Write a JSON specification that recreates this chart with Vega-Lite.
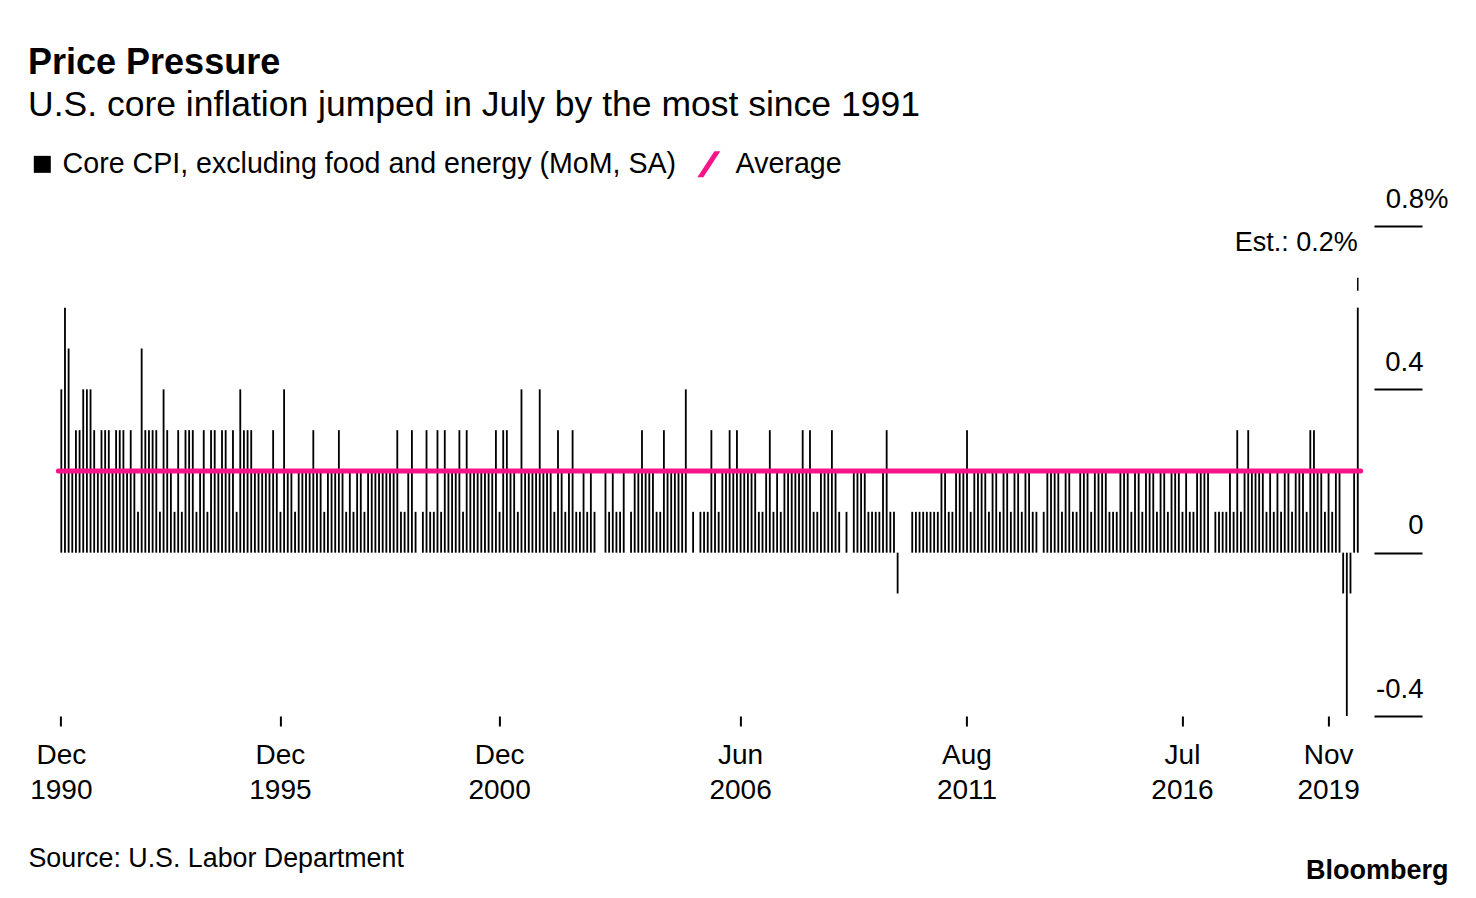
{
  "$schema": "https://vega.github.io/schema/vega-lite/v6.json",
  "width": 1302.3,
  "height": 490,
  "autosize": {"type": "none"},
  "padding": {"left": 58.4, "top": 226, "right": 115.3, "bottom": 182},
  "config": {
    "font": "Liberation Sans",
    "view": {"stroke": null},
    "background": "#ffffff"
  },
  "title": {
    "text": "Price Pressure",
    "subtitle": "U.S. core inflation jumped in July by the most since 1991",
    "anchor": "start",
    "frame": "group",
    "dx": -30.4,
    "fontSize": 36,
    "fontWeight": "bold",
    "color": "#000000",
    "subtitleFontSize": 35.5,
    "subtitleColor": "#000000",
    "subtitlePadding": 6,
    "offset": 26
  },
  "datasets": {
    "avg": [{"avg": 0.2}]
  },
  "data": {"values": [
    {"m":"Dec 1990","v":0.4},
    {"m":"Jan 1991","v":0.6},{"m":"Feb 1991","v":0.5},{"m":"Mar 1991","v":0.2},{"m":"Apr 1991","v":0.3},{"m":"May 1991","v":0.3},{"m":"Jun 1991","v":0.4},{"m":"Jul 1991","v":0.4},{"m":"Aug 1991","v":0.4},{"m":"Sep 1991","v":0.3},{"m":"Oct 1991","v":0.2},{"m":"Nov 1991","v":0.3},{"m":"Dec 1991","v":0.3},
    {"m":"Jan 1992","v":0.3},{"m":"Feb 1992","v":0.2},{"m":"Mar 1992","v":0.3},{"m":"Apr 1992","v":0.3},{"m":"May 1992","v":0.3},{"m":"Jun 1992","v":0.2},{"m":"Jul 1992","v":0.3},{"m":"Aug 1992","v":0.2},{"m":"Sep 1992","v":0.1},{"m":"Oct 1992","v":0.5},{"m":"Nov 1992","v":0.3},{"m":"Dec 1992","v":0.3},
    {"m":"Jan 1993","v":0.3},{"m":"Feb 1993","v":0.3},{"m":"Mar 1993","v":0.1},{"m":"Apr 1993","v":0.4},{"m":"May 1993","v":0.3},{"m":"Jun 1993","v":0.2},{"m":"Jul 1993","v":0.1},{"m":"Aug 1993","v":0.3},{"m":"Sep 1993","v":0.1},{"m":"Oct 1993","v":0.3},{"m":"Nov 1993","v":0.3},{"m":"Dec 1993","v":0.3},
    {"m":"Jan 1994","v":0.1},{"m":"Feb 1994","v":0.2},{"m":"Mar 1994","v":0.3},{"m":"Apr 1994","v":0.1},{"m":"May 1994","v":0.3},{"m":"Jun 1994","v":0.3},{"m":"Jul 1994","v":0.2},{"m":"Aug 1994","v":0.3},{"m":"Sep 1994","v":0.3},{"m":"Oct 1994","v":0.2},{"m":"Nov 1994","v":0.3},{"m":"Dec 1994","v":0.1},
    {"m":"Jan 1995","v":0.4},{"m":"Feb 1995","v":0.3},{"m":"Mar 1995","v":0.3},{"m":"Apr 1995","v":0.3},{"m":"May 1995","v":0.2},{"m":"Jun 1995","v":0.2},{"m":"Jul 1995","v":0.2},{"m":"Aug 1995","v":0.2},{"m":"Sep 1995","v":0.2},{"m":"Oct 1995","v":0.3},{"m":"Nov 1995","v":0.2},{"m":"Dec 1995","v":0.1},
    {"m":"Jan 1996","v":0.4},{"m":"Feb 1996","v":0.2},{"m":"Mar 1996","v":0.2},{"m":"Apr 1996","v":0.1},{"m":"May 1996","v":0.2},{"m":"Jun 1996","v":0.2},{"m":"Jul 1996","v":0.2},{"m":"Aug 1996","v":0.2},{"m":"Sep 1996","v":0.3},{"m":"Oct 1996","v":0.2},{"m":"Nov 1996","v":0.2},{"m":"Dec 1996","v":0.1},
    {"m":"Jan 1997","v":0.2},{"m":"Feb 1997","v":0.2},{"m":"Mar 1997","v":0.2},{"m":"Apr 1997","v":0.3},{"m":"May 1997","v":0.2},{"m":"Jun 1997","v":0.1},{"m":"Jul 1997","v":0.2},{"m":"Aug 1997","v":0.1},{"m":"Sep 1997","v":0.2},{"m":"Oct 1997","v":0.2},{"m":"Nov 1997","v":0.1},{"m":"Dec 1997","v":0.2},
    {"m":"Jan 1998","v":0.2},{"m":"Feb 1998","v":0.2},{"m":"Mar 1998","v":0.2},{"m":"Apr 1998","v":0.2},{"m":"May 1998","v":0.2},{"m":"Jun 1998","v":0.2},{"m":"Jul 1998","v":0.2},{"m":"Aug 1998","v":0.3},{"m":"Sep 1998","v":0.1},{"m":"Oct 1998","v":0.1},{"m":"Nov 1998","v":0.2},{"m":"Dec 1998","v":0.3},
    {"m":"Jan 1999","v":0.1},{"m":"Feb 1999","v":0.0},{"m":"Mar 1999","v":0.1},{"m":"Apr 1999","v":0.3},{"m":"May 1999","v":0.1},{"m":"Jun 1999","v":0.1},{"m":"Jul 1999","v":0.3},{"m":"Aug 1999","v":0.1},{"m":"Sep 1999","v":0.3},{"m":"Oct 1999","v":0.2},{"m":"Nov 1999","v":0.2},{"m":"Dec 1999","v":0.2},
    {"m":"Jan 2000","v":0.3},{"m":"Feb 2000","v":0.1},{"m":"Mar 2000","v":0.3},{"m":"Apr 2000","v":0.2},{"m":"May 2000","v":0.2},{"m":"Jun 2000","v":0.2},{"m":"Jul 2000","v":0.2},{"m":"Aug 2000","v":0.2},{"m":"Sep 2000","v":0.2},{"m":"Oct 2000","v":0.2},{"m":"Nov 2000","v":0.3},{"m":"Dec 2000","v":0.1},
    {"m":"Jan 2001","v":0.3},{"m":"Feb 2001","v":0.3},{"m":"Mar 2001","v":0.2},{"m":"Apr 2001","v":0.2},{"m":"May 2001","v":0.1},{"m":"Jun 2001","v":0.4},{"m":"Jul 2001","v":0.2},{"m":"Aug 2001","v":0.2},{"m":"Sep 2001","v":0.2},{"m":"Oct 2001","v":0.2},{"m":"Nov 2001","v":0.4},{"m":"Dec 2001","v":0.2},
    {"m":"Jan 2002","v":0.2},{"m":"Feb 2002","v":0.2},{"m":"Mar 2002","v":0.1},{"m":"Apr 2002","v":0.3},{"m":"May 2002","v":0.2},{"m":"Jun 2002","v":0.1},{"m":"Jul 2002","v":0.2},{"m":"Aug 2002","v":0.3},{"m":"Sep 2002","v":0.1},{"m":"Oct 2002","v":0.1},{"m":"Nov 2002","v":0.2},{"m":"Dec 2002","v":0.1},
    {"m":"Jan 2003","v":0.2},{"m":"Feb 2003","v":0.1},{"m":"Mar 2003","v":0.0},{"m":"Apr 2003","v":0.0},{"m":"May 2003","v":0.2},{"m":"Jun 2003","v":0.1},{"m":"Jul 2003","v":0.2},{"m":"Aug 2003","v":0.1},{"m":"Sep 2003","v":0.1},{"m":"Oct 2003","v":0.2},{"m":"Nov 2003","v":0.0},{"m":"Dec 2003","v":0.1},
    {"m":"Jan 2004","v":0.2},{"m":"Feb 2004","v":0.2},{"m":"Mar 2004","v":0.3},{"m":"Apr 2004","v":0.2},{"m":"May 2004","v":0.2},{"m":"Jun 2004","v":0.2},{"m":"Jul 2004","v":0.1},{"m":"Aug 2004","v":0.1},{"m":"Sep 2004","v":0.3},{"m":"Oct 2004","v":0.2},{"m":"Nov 2004","v":0.2},{"m":"Dec 2004","v":0.2},
    {"m":"Jan 2005","v":0.2},{"m":"Feb 2005","v":0.2},{"m":"Mar 2005","v":0.4},{"m":"Apr 2005","v":0.0},{"m":"May 2005","v":0.1},{"m":"Jun 2005","v":0.0},{"m":"Jul 2005","v":0.1},{"m":"Aug 2005","v":0.1},{"m":"Sep 2005","v":0.1},{"m":"Oct 2005","v":0.3},{"m":"Nov 2005","v":0.2},{"m":"Dec 2005","v":0.1},
    {"m":"Jan 2006","v":0.2},{"m":"Feb 2006","v":0.2},{"m":"Mar 2006","v":0.3},{"m":"Apr 2006","v":0.2},{"m":"May 2006","v":0.3},{"m":"Jun 2006","v":0.2},{"m":"Jul 2006","v":0.2},{"m":"Aug 2006","v":0.2},{"m":"Sep 2006","v":0.2},{"m":"Oct 2006","v":0.2},{"m":"Nov 2006","v":0.1},{"m":"Dec 2006","v":0.1},
    {"m":"Jan 2007","v":0.2},{"m":"Feb 2007","v":0.3},{"m":"Mar 2007","v":0.1},{"m":"Apr 2007","v":0.2},{"m":"May 2007","v":0.1},{"m":"Jun 2007","v":0.2},{"m":"Jul 2007","v":0.2},{"m":"Aug 2007","v":0.2},{"m":"Sep 2007","v":0.2},{"m":"Oct 2007","v":0.2},{"m":"Nov 2007","v":0.3},{"m":"Dec 2007","v":0.2},
    {"m":"Jan 2008","v":0.3},{"m":"Feb 2008","v":0.1},{"m":"Mar 2008","v":0.1},{"m":"Apr 2008","v":0.2},{"m":"May 2008","v":0.2},{"m":"Jun 2008","v":0.2},{"m":"Jul 2008","v":0.3},{"m":"Aug 2008","v":0.2},{"m":"Sep 2008","v":0.1},{"m":"Oct 2008","v":0.0},{"m":"Nov 2008","v":0.1},{"m":"Dec 2008","v":0.0},
    {"m":"Jan 2009","v":0.2},{"m":"Feb 2009","v":0.2},{"m":"Mar 2009","v":0.2},{"m":"Apr 2009","v":0.2},{"m":"May 2009","v":0.1},{"m":"Jun 2009","v":0.1},{"m":"Jul 2009","v":0.1},{"m":"Aug 2009","v":0.1},{"m":"Sep 2009","v":0.2},{"m":"Oct 2009","v":0.3},{"m":"Nov 2009","v":0.1},{"m":"Dec 2009","v":0.1},
    {"m":"Jan 2010","v":-0.1},{"m":"Feb 2010","v":0.0},{"m":"Mar 2010","v":0.0},{"m":"Apr 2010","v":0.0},{"m":"May 2010","v":0.1},{"m":"Jun 2010","v":0.1},{"m":"Jul 2010","v":0.1},{"m":"Aug 2010","v":0.1},{"m":"Sep 2010","v":0.1},{"m":"Oct 2010","v":0.1},{"m":"Nov 2010","v":0.1},{"m":"Dec 2010","v":0.1},
    {"m":"Jan 2011","v":0.2},{"m":"Feb 2011","v":0.2},{"m":"Mar 2011","v":0.1},{"m":"Apr 2011","v":0.1},{"m":"May 2011","v":0.2},{"m":"Jun 2011","v":0.2},{"m":"Jul 2011","v":0.2},{"m":"Aug 2011","v":0.3},{"m":"Sep 2011","v":0.1},{"m":"Oct 2011","v":0.2},{"m":"Nov 2011","v":0.2},{"m":"Dec 2011","v":0.2},
    {"m":"Jan 2012","v":0.2},{"m":"Feb 2012","v":0.1},{"m":"Mar 2012","v":0.2},{"m":"Apr 2012","v":0.2},{"m":"May 2012","v":0.1},{"m":"Jun 2012","v":0.2},{"m":"Jul 2012","v":0.2},{"m":"Aug 2012","v":0.1},{"m":"Sep 2012","v":0.2},{"m":"Oct 2012","v":0.2},{"m":"Nov 2012","v":0.1},{"m":"Dec 2012","v":0.2},
    {"m":"Jan 2013","v":0.2},{"m":"Feb 2013","v":0.1},{"m":"Mar 2013","v":0.1},{"m":"Apr 2013","v":0.0},{"m":"May 2013","v":0.1},{"m":"Jun 2013","v":0.2},{"m":"Jul 2013","v":0.2},{"m":"Aug 2013","v":0.2},{"m":"Sep 2013","v":0.2},{"m":"Oct 2013","v":0.1},{"m":"Nov 2013","v":0.2},{"m":"Dec 2013","v":0.2},
    {"m":"Jan 2014","v":0.1},{"m":"Feb 2014","v":0.1},{"m":"Mar 2014","v":0.2},{"m":"Apr 2014","v":0.2},{"m":"May 2014","v":0.2},{"m":"Jun 2014","v":0.1},{"m":"Jul 2014","v":0.2},{"m":"Aug 2014","v":0.2},{"m":"Sep 2014","v":0.2},{"m":"Oct 2014","v":0.2},{"m":"Nov 2014","v":0.1},{"m":"Dec 2014","v":0.1},
    {"m":"Jan 2015","v":0.1},{"m":"Feb 2015","v":0.2},{"m":"Mar 2015","v":0.2},{"m":"Apr 2015","v":0.2},{"m":"May 2015","v":0.1},{"m":"Jun 2015","v":0.2},{"m":"Jul 2015","v":0.2},{"m":"Aug 2015","v":0.1},{"m":"Sep 2015","v":0.2},{"m":"Oct 2015","v":0.2},{"m":"Nov 2015","v":0.2},{"m":"Dec 2015","v":0.1},
    {"m":"Jan 2016","v":0.2},{"m":"Feb 2016","v":0.2},{"m":"Mar 2016","v":0.1},{"m":"Apr 2016","v":0.2},{"m":"May 2016","v":0.2},{"m":"Jun 2016","v":0.2},{"m":"Jul 2016","v":0.1},{"m":"Aug 2016","v":0.2},{"m":"Sep 2016","v":0.1},{"m":"Oct 2016","v":0.1},{"m":"Nov 2016","v":0.2},{"m":"Dec 2016","v":0.2},
    {"m":"Jan 2017","v":0.2},{"m":"Feb 2017","v":0.2},{"m":"Mar 2017","v":0.0},{"m":"Apr 2017","v":0.1},{"m":"May 2017","v":0.1},{"m":"Jun 2017","v":0.1},{"m":"Jul 2017","v":0.1},{"m":"Aug 2017","v":0.2},{"m":"Sep 2017","v":0.1},{"m":"Oct 2017","v":0.3},{"m":"Nov 2017","v":0.1},{"m":"Dec 2017","v":0.2},
    {"m":"Jan 2018","v":0.3},{"m":"Feb 2018","v":0.2},{"m":"Mar 2018","v":0.2},{"m":"Apr 2018","v":0.2},{"m":"May 2018","v":0.2},{"m":"Jun 2018","v":0.1},{"m":"Jul 2018","v":0.2},{"m":"Aug 2018","v":0.1},{"m":"Sep 2018","v":0.2},{"m":"Oct 2018","v":0.1},{"m":"Nov 2018","v":0.2},{"m":"Dec 2018","v":0.2},
    {"m":"Jan 2019","v":0.1},{"m":"Feb 2019","v":0.2},{"m":"Mar 2019","v":0.2},{"m":"Apr 2019","v":0.2},{"m":"May 2019","v":0.1},{"m":"Jun 2019","v":0.3},{"m":"Jul 2019","v":0.3},{"m":"Aug 2019","v":0.2},{"m":"Sep 2019","v":0.2},{"m":"Oct 2019","v":0.1},{"m":"Nov 2019","v":0.2},{"m":"Dec 2019","v":0.1},
    {"m":"Jan 2020","v":0.2},{"m":"Feb 2020","v":0.2},{"m":"Mar 2020","v":-0.1},{"m":"Apr 2020","v":-0.4},{"m":"May 2020","v":-0.1},{"m":"Jun 2020","v":0.2},{"m":"Jul 2020","v":0.6,"est":"Est.: 0.2%"}
  ]},
  "layer": [
    {
      "mark": {"type": "bar", "color": "#000000"},
      "encoding": {
        "x": {
          "field": "m", "type": "ordinal", "sort": null,
          "scale": {"paddingInner": 0.5, "paddingOuter": 0.55, "round": false},
          "axis": {
            "values": ["Dec 1990", "Dec 1995", "Dec 2000", "Jun 2006", "Aug 2011", "Jul 2016", "Nov 2019"],
            "labelExpr": "split(datum.value, ' ')",
            "labelAngle": 0, "labelAlign": "center", "labelBaseline": "top",
            "labelFontSize": 28, "labelLineHeight": 35, "labelPadding": 15, "labelColor": "#000000",
            "labelOverlap": false, "labelFlush": false, "labelBound": false,
            "domain": false, "grid": false, "tickSize": 10, "tickWidth": 2, "tickColor": "#000000",
            "title": "Source: U.S. Labor Department",
            "titleX": -30.4, "titleY": 150, "titleAlign": "left", "titleAnchor": "start", "titleBaseline": "alphabetic",
            "titleFontSize": 26.8, "titleFontWeight": "normal", "titleColor": "#000000"
          }
        },
        "y": {
          "field": "v", "type": "quantitative",
          "scale": {"domain": [-0.4, 0.8], "nice": false, "zero": true},
          "axis": {
            "orient": "right", "values": [-0.4, 0, 0.4, 0.8],
            "labelExpr": "datum.value == 0.8 ? '0.8%' : datum.value == 0 ? '0' : datum.value < 0 ? '-0.4' : '0.4'",
            "domain": false, "grid": false, "tickSize": 48, "tickWidth": 2, "tickColor": "#000000", "offset": 13.3,
            "labelAlign": "right", "labelBaseline": "alphabetic", "labelOffset": -19,
            "labelPadding": {"condition": {"test": "datum.value == 0.8", "value": 26}, "value": 1},
            "labelFontSize": 27.5, "labelColor": "#000000",
            "labelOverlap": false, "labelFlush": false, "labelBound": false,
            "title": "Bloomberg", "titleAngle": 0, "titleX": 74, "titleY": 652, "titleAlign": "right", "titleBaseline": "alphabetic",
            "titleFontSize": 27, "titleFontWeight": "bold", "titleColor": "#000000"
          }
        }
      }
    },
    {
      "data": {"name": "avg"},
      "mark": {"type": "rule", "color": "#f7148b", "strokeWidth": 5, "strokeCap": "round"},
      "encoding": {"y": {"field": "avg", "type": "quantitative"}}
    },
    {
      "transform": [{"filter": "isValid(datum.est)"}],
      "mark": {"type": "rule", "color": "#000000", "strokeWidth": 1.5, "yOffset": -17, "y2Offset": -30},
      "encoding": {
        "x": {"field": "m", "type": "ordinal", "sort": null},
        "y": {"field": "v", "type": "quantitative"},
        "y2": {"field": "v"}
      }
    },
    {
      "transform": [{"filter": "isValid(datum.est)"}],
      "mark": {"type": "text", "align": "right", "baseline": "alphabetic", "dy": -57, "dx": 0, "fontSize": 27, "color": "#000000"},
      "encoding": {
        "x": {"field": "m", "type": "ordinal", "sort": null},
        "y": {"field": "v", "type": "quantitative"},
        "text": {"field": "est"}
      }
    },
    {
      "transform": [{"filter": "false"}],
      "mark": {"type": "point", "filled": true},
      "encoding": {
        "color": {
          "field": "s", "type": "nominal",
          "scale": {"domain": ["Core CPI, excluding food and energy (MoM, SA)", "Average"], "range": ["#000000", "#f7148b"]},
          "legend": {"title": null, "orient": "none", "legendX": -30.4, "legendY": -76, "direction": "horizontal", "columns": 2,
                     "symbolSize": 289, "labelFontSize": 28.6, "labelColor": "#000000", "labelOffset": 6, "columnPadding": 20,
                     "symbolStrokeWidth": 0, "padding": 0, "labelLimit": 1000, "symbolOpacity": 1}
        },
        "shape": {
          "field": "s", "type": "nominal",
          "scale": {"domain": ["Core CPI, excluding food and energy (MoM, SA)", "Average"], "range": ["square", "M -2.11 1.53 L -0.11 -1.53 L 0.59 -1.53 L -1.41 1.53 Z"]},
          "legend": {"title": null, "orient": "none", "legendX": -30.4, "legendY": -76, "direction": "horizontal", "columns": 2,
                     "symbolSize": 289, "labelFontSize": 28.6, "labelColor": "#000000", "labelOffset": 6, "columnPadding": 20,
                     "symbolStrokeWidth": 0, "padding": 0, "labelLimit": 1000, "symbolOpacity": 1}
        }
      }
    }
  ]
}
